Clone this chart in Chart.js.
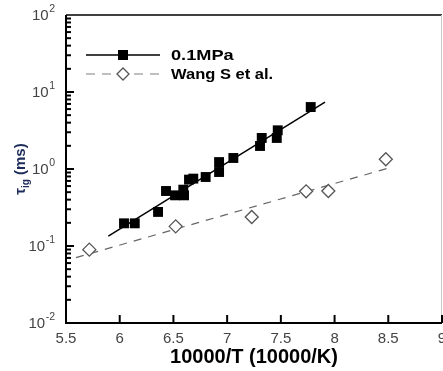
<!DOCTYPE html>
<html>
<head>
<meta charset="utf-8">
<script src="https://cdn.jsdelivr.net/npm/chart.js@4.4.1/dist/chart.umd.min.js"></script>
<style>
  html, body { margin: 0; padding: 0; background: #fff; overflow: hidden; }
  #wrap { width: 443px; height: 371px; }
</style>
</head>
<body>
<div id="wrap"><canvas id="c" width="443" height="371"></canvas></div>
<script>
// ---- data ----
const series1Name = '0.1MPa';
const series1X = [6.04, 6.14, 6.357, 6.431, 6.515, 6.599, 6.592, 6.645, 6.685, 6.80, 6.925, 6.925, 7.058, 7.306, 7.322, 7.462, 7.471, 7.778];
const series1Y = [0.197, 0.197, 0.277, 0.518, 0.455, 0.455, 0.539, 0.728, 0.75, 0.787, 0.914, 1.23, 1.39, 1.99, 2.53, 2.53, 3.18, 6.38];
const fit1X = [5.894, 7.911];
const fit1Y = [0.134, 7.41];

const series2Name = 'Wang S et al.';
const series2X = [5.717, 6.521, 7.229, 7.735, 7.942, 8.477];
const series2Y = [0.0897, 0.180, 0.238, 0.513, 0.518, 1.34];
const fit2X = [5.593, 8.545];
const fit2Y = [0.0706, 1.07];

const xTicks = [5.5, 6, 6.5, 7, 7.5, 8, 8.5, 9];
const yTicks = [0.01, 0.1, 1, 10, 100];
const xTitle = '10000/T (10000/K)';
const yTitleMain = 'τ';
const yTitleSub = 'ig';
const yTitleUnit = ' (ms)';

const pts = (xs, ys) => xs.map((x, i) => ({ x: x, y: ys[i] }));

const framePlugin = {
  id: 'framePlugin',
  afterDraw(chart) {
    const ctx = chart.ctx;
    const a = chart.chartArea;
    const xs = chart.scales.x, ys = chart.scales.y;
    ctx.save();
    // frame
    ctx.strokeStyle = '#000';
    ctx.lineWidth = 2;
    ctx.beginPath();
    ctx.moveTo(a.left, a.top); ctx.lineTo(a.left, a.bottom); ctx.lineTo(a.right, a.bottom);
    ctx.stroke();
    ctx.lineWidth = 1.5;
    ctx.beginPath();
    ctx.moveTo(a.left, a.top); ctx.lineTo(a.right, a.top);
    ctx.stroke();
    ctx.strokeStyle = '#c8c8c8';
    ctx.lineWidth = 1;
    ctx.beginPath();
    ctx.moveTo(a.right - 0.5, a.top); ctx.lineTo(a.right - 0.5, a.bottom);
    ctx.stroke();

    // y ticks (major + minor), inward
    ctx.strokeStyle = '#000';
    ctx.lineWidth = 2;
    for (let e = -2; e < 2; e++) {
      for (let m = 1; m <= 9; m++) {
        const v = m * Math.pow(10, e);
        const py = ys.getPixelForValue(v);
        const len = m === 1 ? 8 : 5;
        ctx.beginPath();
        ctx.moveTo(a.left, py); ctx.lineTo(a.left + len, py);
        ctx.stroke();
      }
    }
    // x ticks, inward
    xs.ticks.forEach(t => {
      const px = xs.getPixelForValue(t.value);
      ctx.beginPath();
      ctx.moveTo(px, a.bottom); ctx.lineTo(px, a.bottom - 8);
      ctx.stroke();
    });

    // y tick labels 10^n
    ctx.fillStyle = '#444';
    ys.ticks.forEach(t => {
      const py = ys.getPixelForValue(t.value);
      const exp = String(Math.round(Math.log10(t.value)));
      const rightEdge = a.left - 11;
      ctx.font = '10.5px "Liberation Sans", Arial, sans-serif';
      ctx.textAlign = 'right';
      ctx.textBaseline = 'middle';
      const ew = ctx.measureText(exp).width;
      ctx.fillText(exp, rightEdge, py - 6);
      ctx.font = '15px "Liberation Sans", Arial, sans-serif';
      ctx.fillText('10', rightEdge - ew - 0.5, py + 1);
    });

    // x title
    ctx.fillStyle = '#000';
    ctx.font = 'bold 20px "Liberation Sans", Arial, sans-serif';
    ctx.textAlign = 'center';
    ctx.textBaseline = 'middle';
    ctx.fillText(xTitle, 254, 357);

    // y title (rotated)
    ctx.save();
    ctx.translate(20, (a.top + a.bottom) / 2);
    ctx.rotate(-Math.PI / 2);
    ctx.fillStyle = '#1c2b5a';
    ctx.textBaseline = 'alphabetic';
    ctx.textAlign = 'left';
    ctx.font = 'bold 15px "Liberation Sans", Arial, sans-serif';
    const w1 = ctx.measureText(yTitleMain).width;
    ctx.font = 'bold 10px "Liberation Sans", Arial, sans-serif';
    const w2 = ctx.measureText(yTitleSub).width;
    ctx.font = 'bold 15px "Liberation Sans", Arial, sans-serif';
    const w3 = ctx.measureText(yTitleUnit).width;
    let sx = -(w1 + w2 + w3) / 2;
    ctx.fillText(yTitleMain, sx, 5);
    ctx.font = 'bold 10px "Liberation Sans", Arial, sans-serif';
    ctx.fillText(yTitleSub, sx + w1, 9);
    ctx.font = 'bold 15px "Liberation Sans", Arial, sans-serif';
    ctx.fillText(yTitleUnit, sx + w1 + w2, 5);
    ctx.restore();

    // legend
    const lx0 = 86, lx1 = 160, mx = 123, ty = 55, ty2 = 74, tx = 171;
    ctx.strokeStyle = '#000';
    ctx.lineWidth = 1.5;
    ctx.setLineDash([]);
    ctx.beginPath(); ctx.moveTo(lx0, ty); ctx.lineTo(lx1, ty); ctx.stroke();
    ctx.fillStyle = '#000';
    ctx.fillRect(mx - 5, ty - 5, 10, 10);
    ctx.strokeStyle = '#aaa';
    ctx.lineWidth = 1.3;
    ctx.setLineDash([9, 7]);
    ctx.beginPath(); ctx.moveTo(lx0, ty2); ctx.lineTo(lx1, ty2); ctx.stroke();
    ctx.setLineDash([]);
    ctx.fillStyle = '#fff';
    ctx.strokeStyle = '#555';
    ctx.lineWidth = 1.3;
    ctx.beginPath();
    ctx.moveTo(mx - 6, ty2); ctx.lineTo(mx, ty2 - 6); ctx.lineTo(mx + 6, ty2); ctx.lineTo(mx, ty2 + 6); ctx.closePath();
    ctx.fill(); ctx.stroke();
    ctx.fillStyle = '#000';
    ctx.font = 'bold 14px "Liberation Sans", Arial, sans-serif';
    ctx.textAlign = 'left';
    ctx.textBaseline = 'middle';
    [[series1Name, ty, 1.3], [series2Name, ty2, 1.18]].forEach(([s, y, k]) => {
      ctx.save();
      ctx.translate(tx, y);
      ctx.scale(k, 1);
      ctx.fillText(s, 0, 1);
      ctx.restore();
    });
    ctx.restore();
  }
};

new Chart(document.getElementById('c'), {
  type: 'scatter',
  data: {
    datasets: [
      { label: series1Name + ' fit', data: pts(fit1X, fit1Y), showLine: true, borderColor: '#000', borderWidth: 1.5, pointRadius: 0, order: 3 },
      { label: series2Name + ' fit', data: pts(fit2X, fit2Y), showLine: true, borderColor: '#666', borderWidth: 1.2, borderDash: [8, 7], pointRadius: 0, order: 4 },
      { label: series1Name, data: pts(series1X, series1Y), pointStyle: 'rect', pointRadius: 7, backgroundColor: '#000', borderColor: '#000', borderWidth: 0, order: 1 },
      { label: series2Name, data: pts(series2X, series2Y), pointStyle: 'rectRot', pointRadius: 6.5, backgroundColor: '#fff', borderColor: '#555', borderWidth: 1.3, order: 2 }
    ]
  },
  options: {
    responsive: false,
    animation: false,
    events: [],
    layout: { autoPadding: false, padding: { top: 15, right: 1, left: 0, bottom: 0 } },
    plugins: { legend: { display: false }, tooltip: { enabled: false } },
    scales: {
      x: {
        type: 'linear', min: 5.5, max: 9,
        afterBuildTicks: s => { s.ticks = xTicks.map(v => ({ value: v })); },
        afterFit: s => { s.height = 48; s.paddingLeft = 0; s.paddingRight = 0; },
        grid: { display: false, drawTicks: false },
        border: { display: false },
        ticks: { color: '#444', font: { size: 15, family: '"Liberation Sans", Arial, sans-serif' }, padding: 7, maxRotation: 0, autoSkip: false,
                 callback: v => String(v) }
      },
      y: {
        type: 'logarithmic', min: 0.01, max: 100,
        afterBuildTicks: s => { s.ticks = yTicks.map(v => ({ value: v })); },
        afterFit: s => { s.width = 66; s.paddingTop = 0; s.paddingBottom = 0; },
        grid: { display: false, drawTicks: false },
        border: { display: false },
        ticks: { display: false }
      }
    }
  },
  plugins: [framePlugin]
});
</script>
</body>
</html>
